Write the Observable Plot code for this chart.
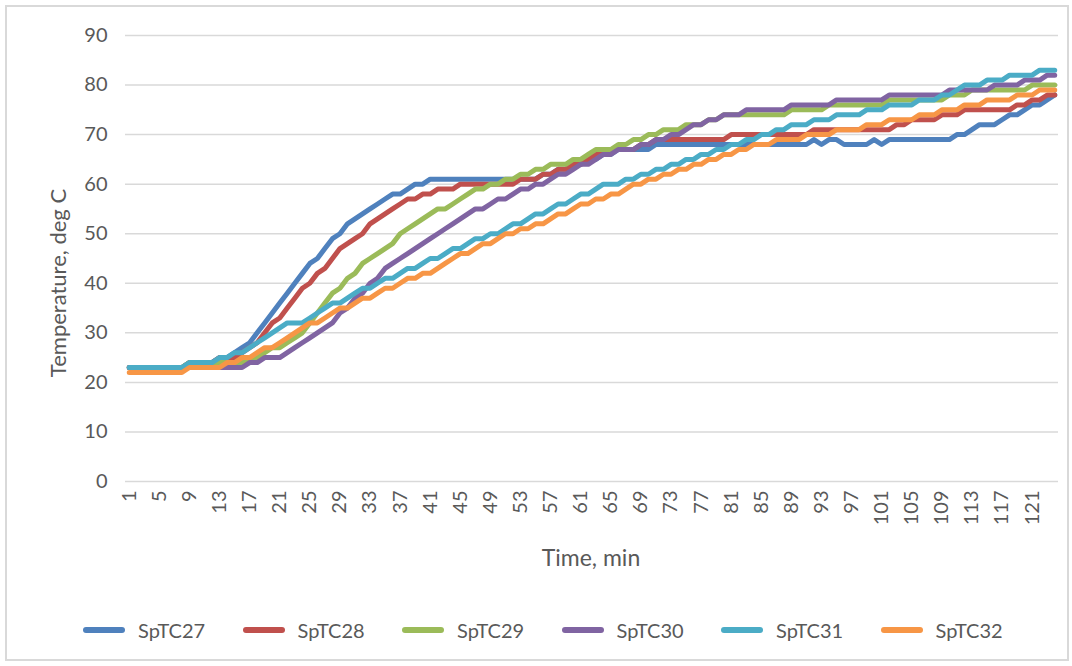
<!DOCTYPE html>
<html>
<head>
<meta charset="utf-8">
<script src="https://cdn.jsdelivr.net/npm/d3@7"></script>
<script src="https://cdn.jsdelivr.net/npm/@observablehq/plot@0.6"></script>
<style>
  html, body { margin: 0; padding: 0; background: #fff; }
  #wrap { position: relative; width: 1072px; height: 666px; font-family: Lato, "Open Sans", sans-serif; }
  #frame { position: absolute; left: 5px; top: 5px; width: 1060px; height: 652px; border: 2px solid #d9d9d9; }
  #chart { position: absolute; left: 0; top: 0; }
  #legend { position: absolute; left: 83px; top: 614px; display: flex; }
  .item { display: flex; align-items: center; width: 159.5px; height: 32px; }
  .sw { width: 42px; height: 5.5px; border-radius: 3px; margin-right: 13px; }
  .lb { font-size: 20px; color: #595959; }
</style>
</head>
<body>
<div id="wrap">
  <div id="frame"></div>
  <div id="chart"></div>
  <div id="legend"></div>
</div>
<script>
const seriesNames = ["SpTC27", "SpTC28", "SpTC29", "SpTC30", "SpTC31", "SpTC32"];
const seriesColors = ["#4F81BD", "#C0504D", "#9BBB59", "#8064A2", "#4BACC6", "#F79646"];
const xTicks = [1,5,9,13,17,21,25,29,33,37,41,45,49,53,57,61,65,69,73,77,81,85,89,93,97,101,105,109,113,117,121];
const yTicks = [0,10,20,30,40,50,60,70,80,90];

const SpTC27 = [23,23,23,23,23,23,23,23,24,24,24,24,25,25,26,27,
  28,30,32,34,36,38,40,42,44,45,47,49,50,52,53,54,55,56,57,58,58,59,60,60,
  61,61,61,61,61,61,61,61,61,61,61,61,61,61,61,
  62,62,63,63,64,64,65,65,66,66,67,67,67,67,67,
  68,68,68,68,68,68,68,68,68,68,68,68,68,68,68,68,68,68,68,68,68,
  69,68,69,69,68,68,68,68,69,68,
  69,69,69,69,69,69,69,69,69,70,70,71,72,72,72,73,74,74,75,76,76,77,78];

const SpTC28 = [23,23,23,23,23,23,23,23,24,24,24,24,25,25,25,
  26,27,28,30,32,33,35,37,39,40,42,43,45,47,48,49,50,52,53,54,55,56,57,57,58,58,59,59,59,
  60,60,60,60,60,60,60,60,61,61,61,
  62,62,63,63,64,64,65,66,66,67,67,67,67,68,68,
  69,69,69,69,69,69,69,69,69,69,
  70,70,70,70,70,70,70,70,70,70,70,
  71,71,71,71,71,71,71,71,71,71,71,
  72,72,73,73,73,73,74,74,74,75,75,75,75,75,75,75,76,76,77,77,78,78];

const SpTC29 = [23,23,23,23,23,23,23,23,24,24,24,24,24,24,24,24,
  25,25,26,27,27,28,29,30,32,34,36,38,39,41,42,44,45,46,47,48,50,51,52,53,54,
  55,55,56,57,58,59,59,60,60,61,61,62,62,63,63,64,64,64,65,65,66,67,67,67,68,68,69,69,70,70,
  71,71,71,72,72,72,73,73,
  74,74,74,74,74,74,74,74,74,
  75,75,75,75,75,
  76,76,76,76,76,76,76,76,
  77,77,77,77,77,77,77,77,
  78,78,78,79,79,79,79,79,79,79,79,80,80,80,80];

const SpTC30 = [23,23,23,23,23,23,23,23,23,23,23,23,23,23,23,23,
  24,24,25,25,25,
  26,27,28,29,30,31,32,34,35,37,38,40,41,43,44,45,46,47,48,49,50,51,52,53,54,
  55,55,56,57,57,58,59,59,60,60,61,62,62,63,64,64,65,66,66,67,67,67,68,68,69,69,70,70,71,72,72,73,73,
  74,74,74,75,75,75,75,75,75,
  76,76,76,76,76,76,
  77,77,77,77,77,77,77,
  78,78,78,78,78,78,78,78,
  79,79,79,79,79,79,80,80,80,80,81,81,81,82,82];

const SpTC31 = [23,23,23,23,23,23,23,23,24,24,24,24,25,25,26,26,27,28,29,30,31,
  32,32,32,33,34,35,36,36,37,38,39,39,40,41,41,42,43,43,44,45,45,46,47,47,48,49,49,50,50,51,52,52,
  53,54,54,55,56,56,57,58,58,59,60,60,60,61,61,62,62,63,63,64,64,65,65,66,66,67,67,68,68,69,69,70,70,71,71,
  72,72,72,73,73,73,74,74,74,74,75,75,75,76,76,76,76,77,77,77,78,78,79,
  80,80,80,81,81,81,82,82,82,82,83,83,83];

const SpTC32 = [22,22,22,22,22,22,22,22,23,23,23,23,23,24,24,25,25,26,27,27,28,29,30,31,32,32,33,34,35,35,36,37,37,38,39,39,40,41,41,42,42,43,44,45,46,46,47,48,48,49,50,50,
  51,51,52,52,53,54,54,55,56,56,57,57,58,58,59,60,60,61,61,62,62,63,63,64,64,65,65,66,66,67,67,68,68,68,
  69,69,69,69,70,70,70,70,71,71,71,71,72,72,72,73,73,73,73,74,74,74,75,75,75,76,76,76,77,77,77,77,78,78,78,79,79,79];

const allSeries = [SpTC27, SpTC28, SpTC29, SpTC30, SpTC31, SpTC32];
const rows = [];
allSeries.forEach((arr, k) => arr.forEach((v, i) => rows.push({t: i + 1, v, s: seriesNames[k]})));

const chart = Plot.plot({
  width: 1072,
  height: 590,
  marginLeft: 125,
  marginRight: 14,
  marginTop: 35,
  marginBottom: 109,
  style: {fontFamily: "Lato, 'Open Sans', sans-serif", fontSize: "20px", color: "#595959", background: "transparent", overflow: "visible"},
  x: {domain: [0.5, 124.5]},
  y: {domain: [0, 90]},
  color: {domain: seriesNames, range: seriesColors},
  marks: [
    Plot.gridY(yTicks, {stroke: "#d9d9d9", strokeOpacity: 1, strokeWidth: 1.5}),
    Plot.axisY(yTicks, {tickSize: 0, tickPadding: 18, label: null, fill: "#595959"}),
    Plot.axisX(xTicks, {tickSize: 0, tickPadding: 9, tickRotate: -90, tickFormat: d => String(d), label: null, fill: "#595959"}),
    Plot.line(rows, {x: "t", y: "v", z: "s", stroke: "s", strokeWidth: 5, strokeLinejoin: "round", strokeLinecap: "round"})
  ]
});
document.getElementById("chart").appendChild(chart);

const svg = d3.select(chart);
svg.append("text")
  .attr("transform", "translate(58,283) rotate(-90)")
  .attr("text-anchor", "middle").attr("dy", "0.35em")
  .attr("fill", "#595959").attr("font-size", "22px")
  .text("Temperature, deg C");
svg.append("text")
  .attr("x", 591).attr("y", 558)
  .attr("text-anchor", "middle").attr("dy", "0.35em")
  .attr("fill", "#595959").attr("font-size", "23px")
  .text("Time, min");

const legend = d3.select("#legend");
seriesNames.forEach((name, k) => {
  const item = legend.append("div").attr("class", "item");
  item.append("div").attr("class", "sw").style("background", seriesColors[k]);
  item.append("span").attr("class", "lb").text(name);
});
</script>
</body>
</html>
